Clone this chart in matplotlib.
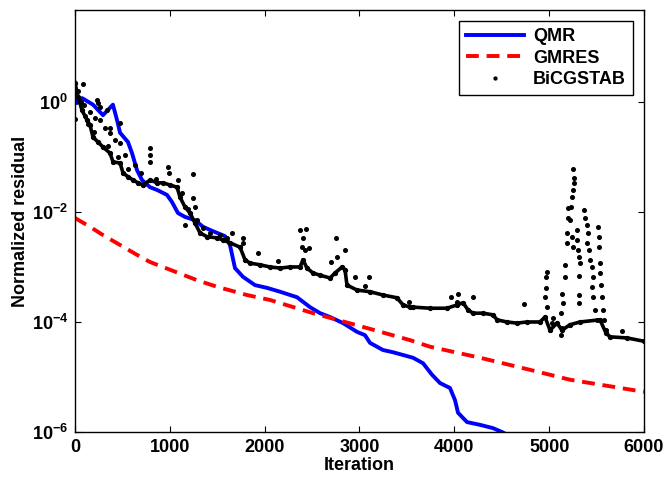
import numpy as np
import matplotlib
matplotlib.use("Agg")
import matplotlib.pyplot as plt

plt.rcParams['font.family'] = ['Liberation Sans', 'DejaVu Sans']
plt.rcParams['font.weight'] = 'bold'
plt.rcParams['mathtext.fontset'] = 'custom'
plt.rcParams['mathtext.rm'] = 'Liberation Sans:bold'
plt.rcParams['mathtext.bf'] = 'Liberation Sans:bold'
plt.rcParams['mathtext.it'] = 'Liberation Sans:bold'

# QMR (iteration, log10 residual)
qmr_it = [0, 21, 74, 190, 295, 400, 443, 475, 559, 601, 654, 707, 791, 865, 970,
          1023, 1086, 1160, 1265, 1350, 1455, 1582, 1634, 1687, 1772, 1898, 2025,
          2162, 2341, 2478, 2584, 2689, 2826, 2974, 3058, 3111, 3248, 3353, 3564,
          3670, 3765, 3849, 3954, 4007, 4039, 4134, 4271, 4408, 4503, 4590]
qmr_log = [0.25, -0.02, 0.07, -0.05, -0.24, -0.05, -0.33, -0.56, -0.73, -0.93,
           -1.24, -1.42, -1.55, -1.60, -1.69, -1.82, -2.02, -2.09, -2.15, -2.27,
           -2.35, -2.44, -2.60, -3.02, -3.18, -3.33, -3.38, -3.45, -3.55, -3.73,
           -3.84, -3.91, -4.02, -4.18, -4.24, -4.38, -4.51, -4.55, -4.65, -4.75,
           -4.96, -5.11, -5.20, -5.42, -5.65, -5.82, -5.87, -5.93, -6.00, -6.08]

# GMRES
gmres_it = [0, 158, 295, 475, 654, 791, 1002, 1286, 1497, 1814, 2056, 2510,
            3037, 3533, 3744, 4271, 4798, 5220, 6000]
gmres_log = [-2.11, -2.27, -2.42, -2.60, -2.78, -2.91, -3.05, -3.24, -3.36, -3.51,
             -3.60, -3.84, -4.09, -4.33, -4.45, -4.65, -4.87, -5.05, -5.27]

# BiCGSTAB main band
bicg_it = [0, 32, 74, 127, 158, 190, 243, 295, 369, 401, 475, 506, 559, 612, 664,
           717, 791, 865, 928, 1002, 1076, 1107, 1160, 1213, 1265, 1318, 1392, 1497,
           1561, 1634, 1740, 1793, 1845, 1951, 2056, 2162, 2267, 2373, 2404, 2446,
           2510, 2584, 2689, 2742, 2816, 2847, 2868, 2974, 3111, 3248, 3395, 3459,
           3533, 3564, 3744, 3923, 4028, 4091, 4144, 4197, 4302, 4408, 4450, 4555,
           4661, 4766, 4903, 4956, 5009, 5083, 5135, 5220, 5325, 5536, 5599, 5642,
           5821, 6000]
bicg_log = [0.35, 0.09, -0.15, -0.33, -0.42, -0.64, -0.73, -0.82, -0.93, -1.09,
            -1.11, -1.29, -1.36, -1.42, -1.47, -1.51, -1.42, -1.47, -1.47, -1.51,
            -1.55, -1.73, -1.91, -2.02, -2.20, -2.38, -2.45, -2.47, -2.51, -2.56,
            -2.64, -2.87, -2.93, -2.96, -3.00, -3.02, -3.00, -3.00, -2.87, -3.02,
            -3.11, -3.15, -3.20, -3.11, -3.00, -3.05, -3.33, -3.42, -3.45, -3.51,
            -3.56, -3.69, -3.73, -3.73, -3.75, -3.75, -3.69, -3.65, -3.78, -3.84,
            -3.84, -3.87, -3.96, -4.00, -4.02, -4.00, -4.00, -3.91, -4.15, -4.02,
            -4.15, -4.05, -4.00, -3.96, -4.20, -4.27, -4.29, -4.35]

# BiCGSTAB scattered points (upper cloud, spikes, outliers)
out_it = [84, 0, 243, 264, 232, 337, 475, 369, 369, 475, 791, 791, 791, 981, 991,
          1086, 1244, 1160, 1244, 1265, 1656, 1772, 1772, 1930, 2141, 2373, 2436,
          2404, 2394, 2425, 2468, 2752, 2847, 2763, 2700, 2953, 3100, 3058, 3522,
          3965, 4039, 4197, 4028, 4735,
          95, 158, 211, 264, 316, 422, 527, 633, 30, 60, 110, 140, 200, 350, 450,
          560, 700, 850, 1130, 1190, 1290, 1350, 1420, 1530, 1600,
          4977, 4967, 4967, 4956, 4977, 5135, 5146, 5125, 5125, 5167, 5167, 5188,
          5188, 5199, 5199, 5220, 5230, 5241, 5251, 5262, 5262, 5251, 5241, 5251,
          5294, 5294, 5304, 5315, 5325, 5315, 5315, 5315, 5367, 5378, 5399, 5410,
          5399, 5420, 5431, 5452, 5462, 5452, 5462, 5483, 5505, 5515, 5526, 5526,
          5536, 5536, 5547, 5557, 5568, 5578, 5599, 5768, 5009, 5030, 5041, 5135]
out_log = [0.33, -0.31, -0.02, -0.09, 0.04, -0.15, -0.38, -0.47, -0.56, -0.75,
           -0.84, -0.96, -1.09, -1.18, -1.29, -1.42, -1.31, -2.24, -1.75, -1.91,
           -2.38, -2.47, -2.56, -2.75, -2.89, -2.33, -2.31, -2.47, -2.64, -2.69,
           -2.65, -2.47, -2.69, -2.82, -2.91, -3.18, -3.18, -3.35, -3.64, -3.55,
           -3.49, -3.55, -3.64, -3.67,
           -0.05, -0.18, -0.29, -0.33, -0.47, -0.69, -0.96, -1.15, 0.20, 0.00,
           -0.25, -0.40, -0.55, -0.80, -1.00, -1.22, -1.30, -1.40, -1.65, -1.95,
           -2.15, -2.30, -2.38, -2.42, -2.48,
           -3.09, -3.18, -3.38, -3.55, -3.73, -3.49, -3.65, -3.84, -4.24, -2.96,
           -3.18, -2.56, -2.38, -2.11, -1.93, -2.15, -1.91, -1.73, -1.60, -1.47,
           -1.38, -1.22, -2.45, -2.64, -2.33, -2.51, -2.69, -2.82, -2.93, -3.16,
           -3.51, -3.65, -1.96, -2.11, -2.24, -2.38, -2.56, -2.69, -2.87, -3.00,
           -3.18, -3.36, -3.55, -3.78, -3.96, -2.27, -2.45, -2.64, -2.93, -3.11,
           -3.33, -3.55, -3.78, -3.96, -4.15, -4.16, -4.15, -4.02, -3.93, -4.11]

fig = plt.figure(figsize=(6.65, 4.8), dpi=100)
ax = fig.add_axes([0.1128, 0.1, 0.8556, 0.879])

ax.plot(qmr_it, 10.0 ** np.array(qmr_log), color='#0000ff', lw=2.8, label='QMR')
ax.plot(gmres_it, 10.0 ** np.array(gmres_log), color='#ff0000', lw=2.8,
        dashes=(3.3, 2.0), label='GMRES')
ax.plot(bicg_it, 10.0 ** np.array(bicg_log), color='k', lw=2.6, marker='o',
        ms=2.8, zorder=3)
ax.plot(out_it, 10.0 ** np.array(out_log), 'o', color='k', ms=2.6,
        label='BiCGSTAB', zorder=3)

ax.set_yscale('log')
ax.set_xlim(0, 6000)
ax.set_ylim(1e-6, 10 ** 1.67)
ax.set_yticks([1e-6, 1e-4, 1e-2, 1e0])
ax.set_yticklabels([r'$10^{-6}$', r'$10^{-4}$', r'$10^{-2}$', r'$10^{0}$'])
ax.yaxis.set_minor_locator(matplotlib.ticker.NullLocator())
ax.set_xticks([0, 1000, 2000, 3000, 4000, 5000, 6000])

ax.tick_params(direction='in', top=True, right=True, length=4, width=0.8,
               labelsize=13, pad=5)
for s in ax.spines.values():
    s.set_linewidth(1.0)

ax.set_xlabel('Iteration', fontsize=13, fontweight='bold', labelpad=1)
ax.set_ylabel('Normalized residual', fontsize=13, fontweight='bold', labelpad=2)

leg = ax.legend(loc='upper right', fontsize=13, handlelength=3.2, fancybox=False,
                edgecolor='k', framealpha=1, borderaxespad=0.6, labelspacing=0.25,
                markerscale=0.8, handletextpad=0.5)
leg.get_frame().set_linewidth(1.0)

fig.savefig('out.png', dpi=100)
